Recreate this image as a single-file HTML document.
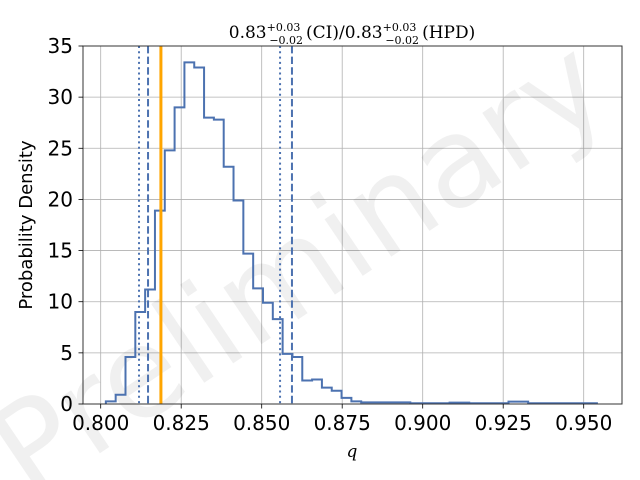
<!DOCTYPE html>
<html><head><meta charset="utf-8"><style>
html,body{margin:0;background:#fff;width:640px;height:480px;overflow:hidden;}
svg{display:block;font-family:"DejaVu Sans","Liberation Sans",sans-serif;overflow:hidden;}
</style></head><body>
<svg id="chart" width="640" height="480" viewBox="0 0 640 480">
<g id="grid"></g>
<text x="300" y="310" font-size="125" fill="#000" fill-opacity="0.06" text-anchor="middle" transform="rotate(-34 300 270)">Preliminary</text>
<g id="marks"></g>
<rect x="83" y="46" width="539" height="358" fill="none" stroke="#333" stroke-width="1"/>
<g id="ticks"></g>
<text x="352" y="38" font-family="'DejaVu Serif','Liberation Serif',serif" font-size="17" text-anchor="middle">0.83<tspan font-size="11" dy="-7">+0.03</tspan><tspan font-size="11" dx="-31" dy="13">−0.02</tspan><tspan dy="-6" dx="3">(CI)/0.83</tspan><tspan font-size="11" dy="-7">+0.03</tspan><tspan font-size="11" dx="-31" dy="13">−0.02</tspan><tspan dy="-6" dx="3">(HPD)</tspan></text>
<text x="352" y="457" font-family="'DejaVu Serif','Liberation Serif',serif" font-style="italic" font-size="17" text-anchor="middle">q</text>
<text x="32" y="225" font-size="18" text-anchor="middle" transform="rotate(-90 32 225)">Probability Density</text>
</svg>
<script>
const binStart = 0.8016;
const binWidth = 0.00305;
const densities = [0.26,0.9,4.6,9.0,11.2,18.9,24.8,29.0,33.4,32.9,28.0,27.8,23.2,19.9,14.7,11.3,9.9,8.3,4.9,4.6,2.3,2.4,1.6,1.3,0.6,0.26,0.16,0.16,0.16,0.16,0.16,0.07,0.07,0.07,0.07,0.13,0.13,0.07,0.07,0.07,0.07,0.23,0.23,0.07,0.07,0.07,0.07,0.07,0.07,0.07];
const xTicks = [0.800,0.825,0.850,0.875,0.900,0.925,0.950];
const xTickLabels = ["0.800","0.825","0.850","0.875","0.900","0.925","0.950"];
const yTicks = [0,5,10,15,20,25,30,35];
const ciLines = [0.8119,0.8557];
const hpdLines = [0.8147,0.8594];
const medianLine = [0.8187];
const X = v => 100.7 + (v - 0.800) * 3220;
const Y = v => 404 - v * (358 / 35);
const NS = "http://www.w3.org/2000/svg";
function mk(tag, attrs, parent){const e=document.createElementNS(NS,tag);for(const k in attrs)e.setAttribute(k,attrs[k]);parent.appendChild(e);return e;}
const grid=document.getElementById('grid'), marks=document.getElementById('marks'), ticks=document.getElementById('ticks');
xTicks.forEach((t,i)=>{
  const g=mk('line',{x1:X(t),x2:X(t),y1:46,y2:404,stroke:'#b0b0b0','stroke-width':0.8},grid);
  
  
  const tk=mk('line',{x1:X(t),x2:X(t),y1:404,y2:408.5,stroke:'#000','stroke-width':0.8},ticks);
  
  
  const tx=mk('text',{x:X(t),y:430,'font-size':20,'text-anchor':'middle'},ticks);
  tx.textContent=xTickLabels[i];
  
  
});
yTicks.forEach(t=>{
  const g=mk('line',{x1:83,x2:622,y1:Y(t),y2:Y(t),stroke:'#b0b0b0','stroke-width':0.8},grid);
  
  
  const tk=mk('line',{x1:78.5,x2:83,y1:Y(t),y2:Y(t),stroke:'#000','stroke-width':0.8},ticks);
  
  
  const tx=mk('text',{x:73,y:Y(t)+7,'font-size':20,'text-anchor':'end'},ticks);
  tx.textContent=String(t);
  
  
});
let d='M'+X(binStart)+','+Y(0);
densities.forEach((v,i)=>{const x0=X(binStart+i*binWidth),x1=X(binStart+(i+1)*binWidth);d+=' L'+x0+','+Y(v)+' L'+x1+','+Y(v);});
d+=' L'+X(binStart+densities.length*binWidth)+','+Y(0);
const h=mk('path',{d:d,fill:'none',stroke:'#4c72b0','stroke-width':2},marks);


ciLines.forEach(v=>{const l=mk('line',{x1:X(v),x2:X(v),y1:46,y2:404,stroke:'#4c72b0','stroke-width':2,'stroke-dasharray':'2,3.3'},marks);
  
  });
hpdLines.forEach(v=>{const l=mk('line',{x1:X(v),x2:X(v),y1:46,y2:404,stroke:'#4c72b0','stroke-width':2,'stroke-dasharray':'7.4,3.2'},marks);
  
  });
medianLine.forEach(v=>{const l=mk('line',{x1:X(v),x2:X(v),y1:46,y2:404,stroke:'#ffa500','stroke-width':3},marks);
  
  });
</script>
</body></html>
